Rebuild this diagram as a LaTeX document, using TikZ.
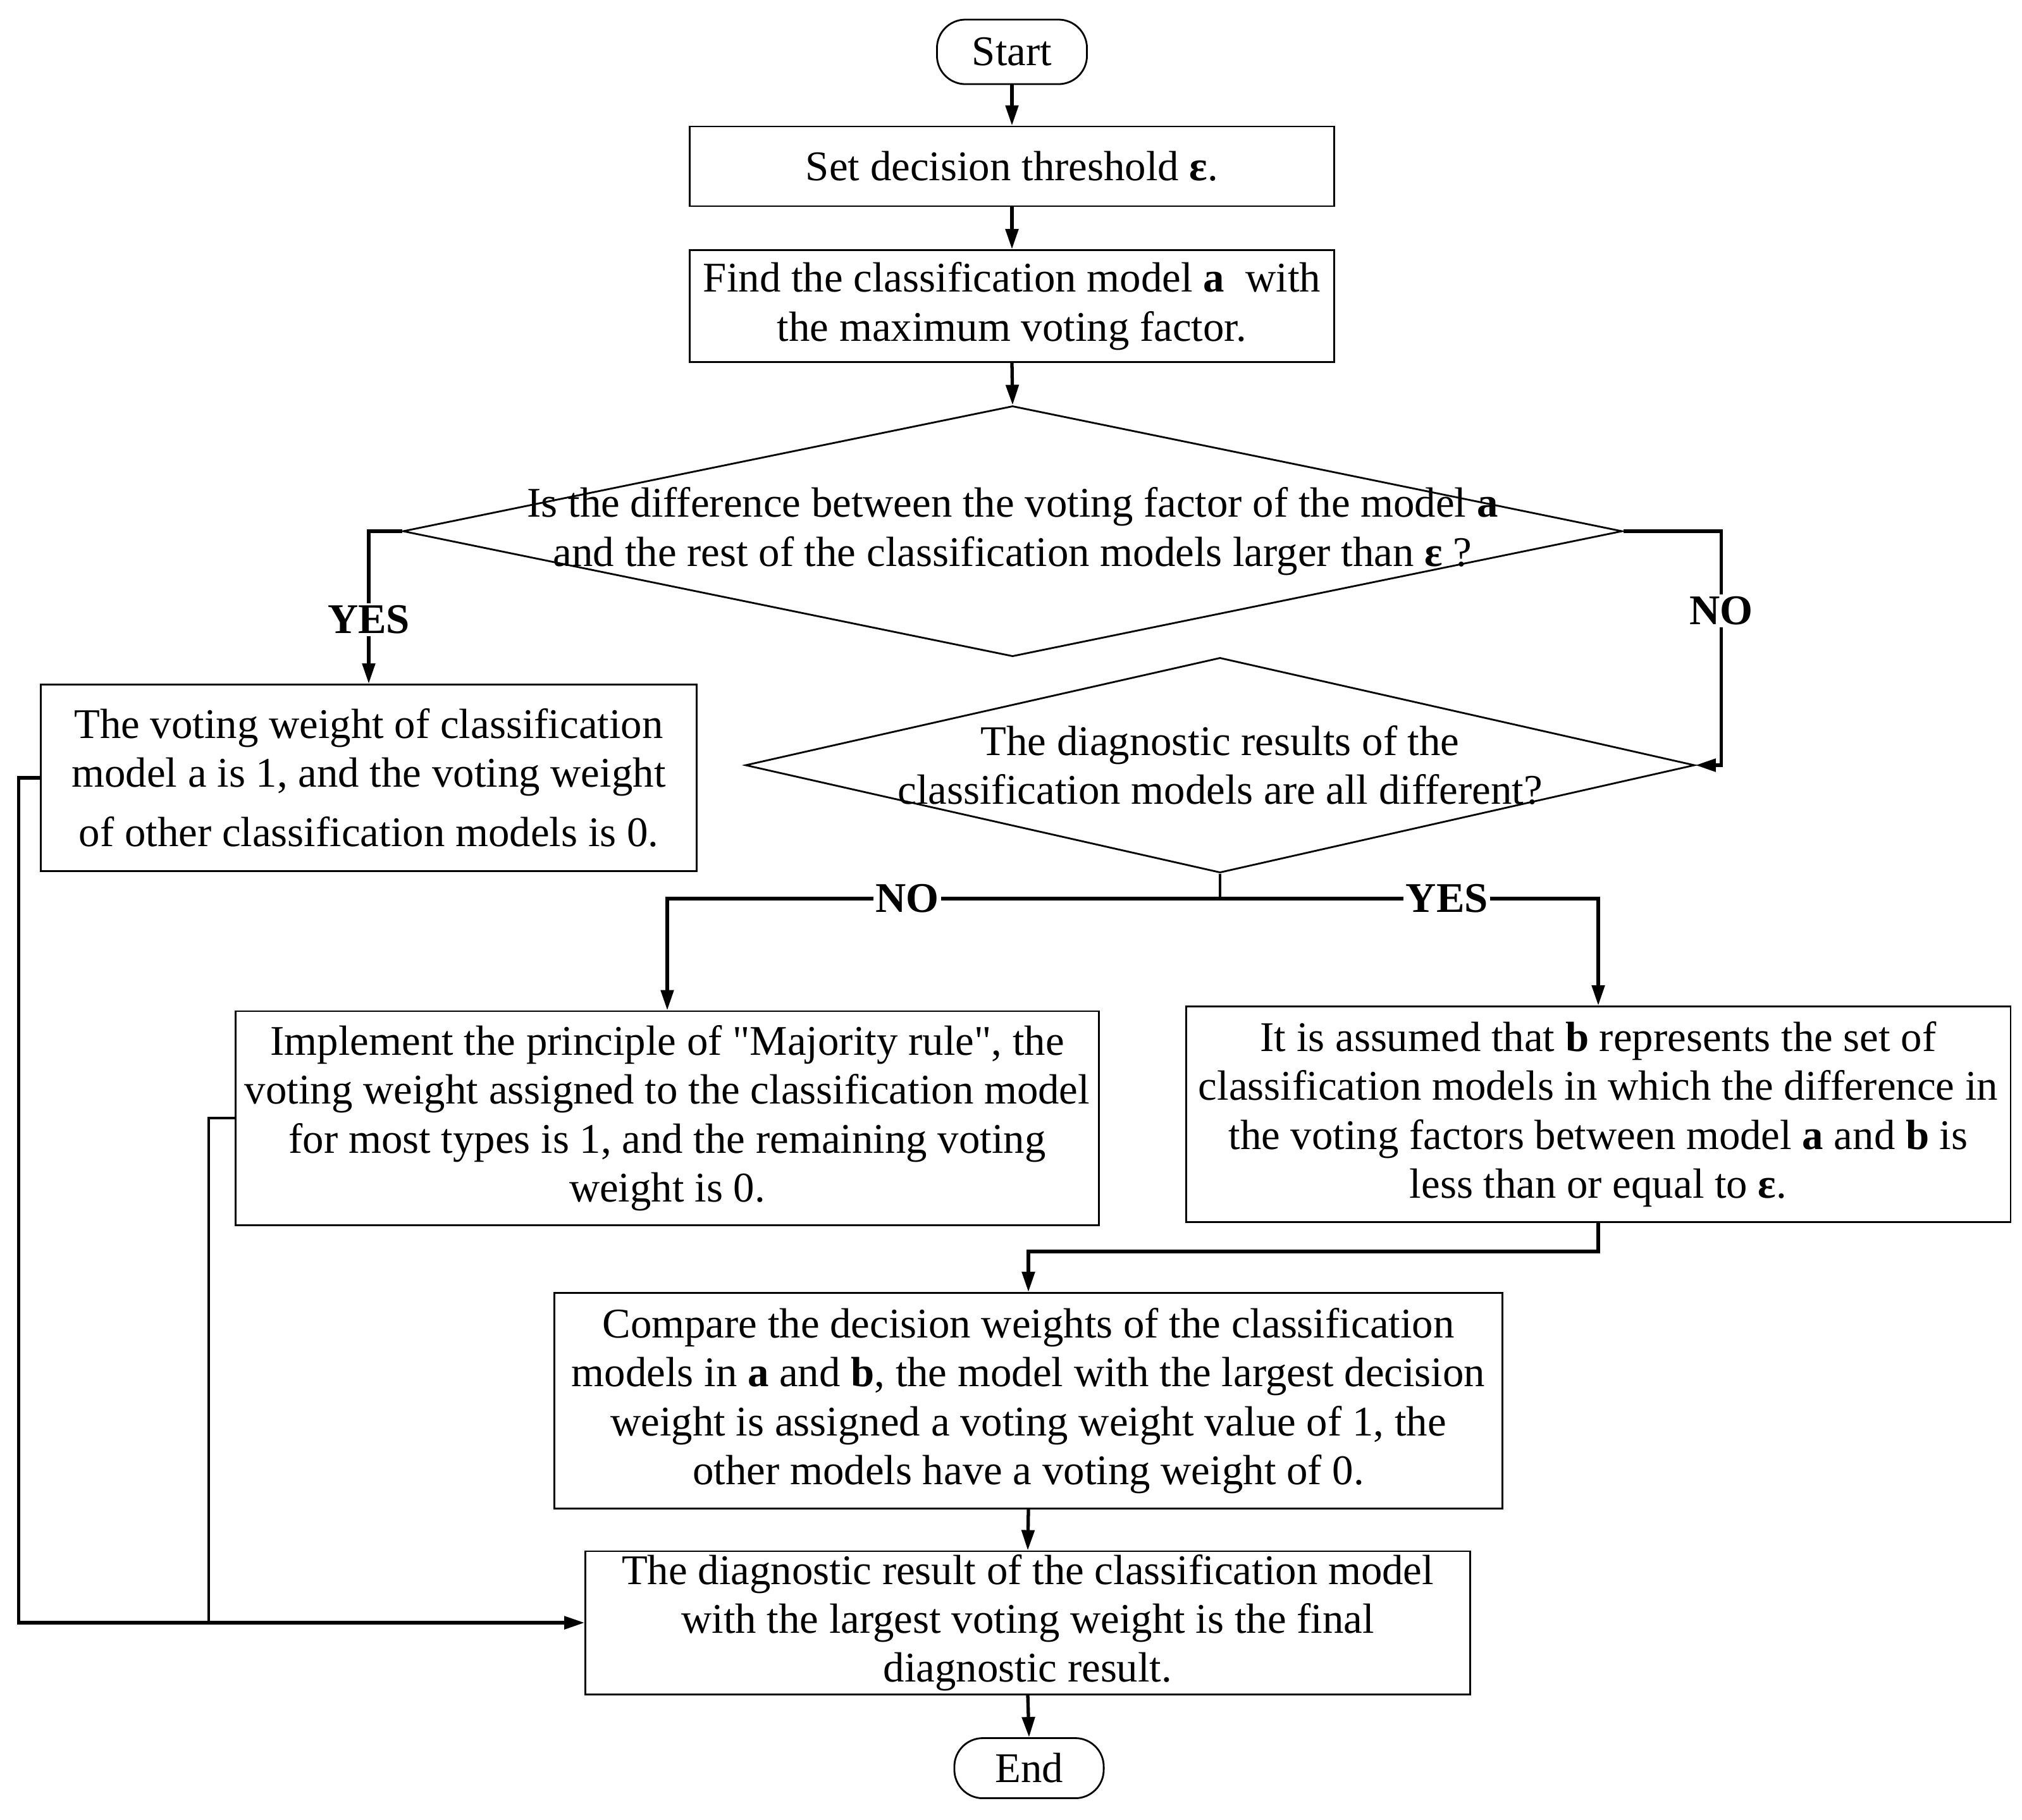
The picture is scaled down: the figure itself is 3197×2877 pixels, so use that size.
\documentclass[tikz,border=0pt]{standalone}
\usepackage{fontspec}
\setmainfont{Liberation Serif}[Ligatures=TeXOff]
\usetikzlibrary{shapes.geometric,arrows.meta}
\newcommand\figtxt{\fontsize{19pt}{22pt}\selectfont}
\begin{document}
\begin{tikzpicture}[x=0.01cm,y=-0.01cm,
  box/.style={draw, line width=0.8pt, rectangle, inner sep=0pt, align=center, font=\figtxt},
  term/.style={draw, line width=0.8pt, rectangle, rounded corners=0.45cm, inner sep=0pt, align=center, font=\figtxt},
  dia/.style={draw, line width=0.8pt, diamond, inner sep=0pt},
  dtext/.style={align=center, font=\figtxt, inner sep=0pt},
  conn/.style={line width=1.5pt, -{Triangle[length=0.32cm,width=0.2cm]}},
  plain/.style={line width=1.5pt},
  thin/.style={line width=0.9pt},
  lbl/.style={fill=white, font=\figtxt\bfseries, inner sep=1pt}]
\useasboundingbox (0,0) rectangle (3197,2877);

\node[term, minimum width=2.37cm, minimum height=1.02cm] (start) at (1600,82) {Start};
\node[box, minimum width=10.19cm, minimum height=1.26cm] (b1) at (1600,263) {Set decision threshold \textbf{ε}.};
\node[box, minimum width=10.19cm, minimum height=1.77cm] (b2) at (1600,484) {Find the classification model \textbf{a}\ \ with\\ the maximum voting factor.};
\node[dia, minimum width=19.27cm, minimum height=3.96cm] (d1) at (1601,840) {};
\node[dtext] (d1t) at (d1.center) {Is the difference between the voting factor of the model \textbf{a}\\ and the rest of the classification models larger than \textbf{ε} ?};
\node[dia, minimum width=15.00cm, minimum height=3.40cm] (d2) at (1929,1210) {};
\node[dtext] (d2t) at (d2.center) {The diagnostic results of the\\ classification models are all different?};
\node[box, minimum width=10.36cm, minimum height=2.95cm] (b3) at (583,1230) {The voting weight of classification\\ model a is 1, and the voting weight\\[4.6pt] of other classification models is 0.};
\node[box, minimum width=13.64cm, minimum height=3.38cm] (b4) at (1055,1768) {Implement the principle of "Majority rule", the\\ voting weight assigned to the classification model\\ for most types is 1, and the remaining voting\\ weight is 0.};
\node[box, minimum width=13.03cm, minimum height=3.41cm] (b5) at (2527,1762) {It is assumed that \textbf{b} represents the set of\\ classification models in which the difference in\\ the voting factors between model \textbf{a} and \textbf{b} is\\ less than or equal to \textbf{ε}.};
\node[box, minimum width=14.98cm, minimum height=3.41cm] (b6) at (1626,2215) {Compare the decision weights of the classification\\ models in \textbf{a} and \textbf{b}, the model with the largest decision\\ weight is assigned a voting weight value of 1, the\\ other models have a voting weight of 0.};
\node[box, minimum width=13.98cm, minimum height=2.26cm] (b7) at (1625,2566) {The diagnostic result of the classification model\\ with the largest voting weight is the final\\ diagnostic result.};
\node[term, minimum width=2.36cm, minimum height=0.95cm] (end) at (1627,2796) {End};

\coordinate (split) at (1929,1421);
\coordinate (join) at (330,2566);

\draw[conn] (start.south) -- (b1.north);
\draw[conn] (b1.south) -- (b2.north);
\draw[conn] (b2.south) -- (d1.north);
\draw[conn] (d1.west) -| node[lbl, pos=0.79] {YES} (b3.north);
\draw[conn] (d1.east) -- ++(1.55cm,0) |- node[lbl, pos=0.17] {NO} (d2.east);
\draw[thin] (d2.south) -- (split);
\draw[conn] (split) -| node[lbl, pos=0.283] {NO} (b4.north);
\draw[conn] (split) -| node[lbl, pos=0.3] {YES} (b5.north);
\draw[conn] (b5.south) -- ++(0,-0.45cm) -| (b6.north);
\draw[conn] (b6.south) -- (b7.north);
\draw[conn] (b7.south) -- (end.north);
\draw[conn] (b3.west) -- ++(-0.34cm,0) |- (b7.west);
\draw[thin] (b4.west) -| (join);
\end{tikzpicture}
\end{document}
